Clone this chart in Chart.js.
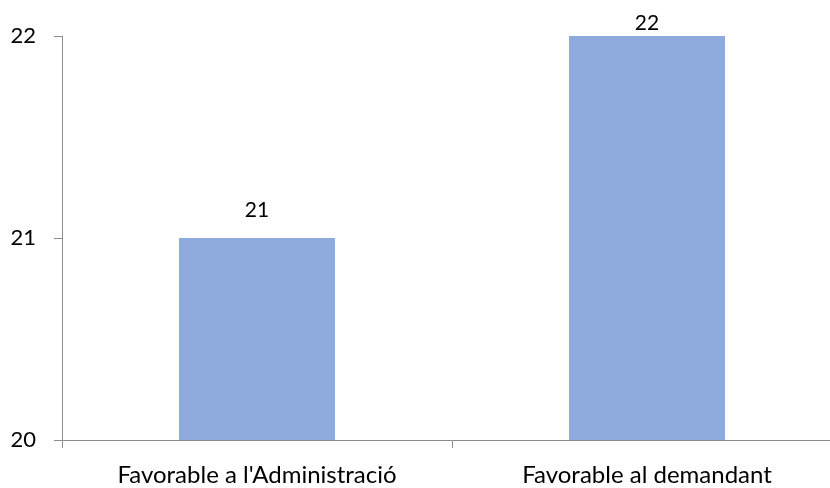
<!DOCTYPE html>
<html>
<head>
<meta charset="utf-8">
<script src="https://cdn.jsdelivr.net/npm/chart.js@4"></script>
<style>
  html, body { margin: 0; padding: 0; background: #fff; overflow: hidden; }
  #wrap { width: 830px; height: 488px; overflow: hidden; }
</style>
</head>
<body>
<div id="wrap"><canvas id="chart" width="842" height="488"></canvas></div>
<script>
const categories = ["Favorable a l'Administració", 'Favorable al demandant'];
const counts = [21, 22];
const yTicks = [20, 21, 22];

const FONT = 'Lato, "Open Sans", sans-serif';
const AXIS = '#8c8c8c';

// value labels above each bar, kept inside the canvas when the bar reaches the top
const barLabels = {
  id: 'barLabels',
  afterDatasetsDraw(chart) {
    const ctx = chart.ctx;
    const meta = chart.getDatasetMeta(0);
    ctx.save();
    ctx.font = '21px ' + FONT;
    ctx.fillStyle = '#000';
    ctx.textAlign = 'center';
    ctx.textBaseline = 'alphabetic';
    meta.data.forEach((bar, i) => {
      const y = Math.max(bar.y - 21, 30);
      ctx.fillText(String(counts[i]), bar.x, y);
    });
    ctx.restore();
  }
};

new Chart(document.getElementById('chart').getContext('2d'), {
  type: 'bar',
  data: {
    labels: categories,
    datasets: [{
      data: counts,
      backgroundColor: '#8faadc',
      barPercentage: 0.4,
      categoryPercentage: 1
    }]
  },
  options: {
    responsive: false,
    animation: false,
    layout: { padding: { top: 36, right: 0, left: 0, bottom: 0 } },
    plugins: { legend: { display: false }, tooltip: { enabled: false } },
    scales: {
      x: {
        offset: true,
        border: { color: AXIS, width: 1 },
        grid: { offset: true, drawOnChartArea: false, color: AXIS, tickLength: 8 },
        ticks: { color: '#000', font: { family: FONT, size: 24 }, padding: 13, maxRotation: 0 },
        afterFit(scale) { scale.height = 48; }
      },
      y: {
        min: 20,
        max: 22,
        afterBuildTicks(scale) { scale.ticks = yTicks.map(v => ({ value: v })); },
        border: { color: AXIS, width: 1 },
        grid: { drawOnChartArea: false, color: AXIS, tickLength: 8 },
        ticks: { color: '#000', font: { family: FONT, size: 22 }, padding: 18 },
        afterFit(scale) { scale.width = 62; }
      }
    }
  },
  plugins: [barLabels]
});
</script>
</body>
</html>
